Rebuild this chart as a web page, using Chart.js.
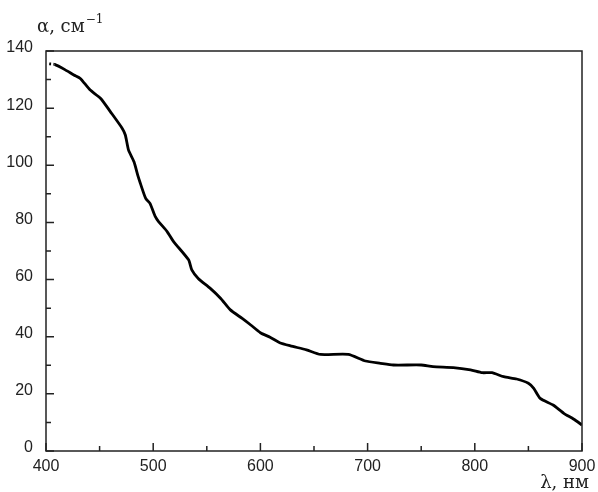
<!DOCTYPE html>
<html>
<head>
<meta charset="utf-8">
<script src="https://cdn.jsdelivr.net/npm/chart.js@4/dist/chart.umd.min.js"></script>
<style>
  html, body { margin: 0; padding: 0; background: #fff; }
</style>
</head>
<body>
<canvas id="chart" width="598" height="492"></canvas>
<script>
// wavelength, nm
const lambda = [403, 408, 418, 426, 432, 441, 451, 460, 471, 474, 477, 482, 486, 488, 493, 497,
  502, 505, 513, 519, 533, 536, 542, 553, 563, 572, 583, 591, 600, 609, 618, 628, 643, 656,
  682, 698, 712, 724, 750, 761, 780, 796, 807, 816, 827, 839, 850, 855, 861, 873, 883, 892, 900];
// absorption coefficient, cm^-1
const alpha = [135.5, 135.3, 133.4, 131.6, 130.4, 126.4, 123.4, 118.8, 113, 110.6, 105.3, 101.3, 96, 93.7,
  88.4, 86.7, 82, 80.3, 76.8, 73.3, 66.9, 63.4, 60.4, 57, 53.4, 49.4, 46.4, 44.1, 41.4, 39.8, 37.9,
  36.8, 35.4, 33.8, 33.8, 31.5, 30.7, 30.1, 30.1, 29.5, 29.2, 28.4, 27.4, 27.4, 26, 25.2, 23.7, 21.9,
  18.4, 16.1, 13.2, 11.2, 9.1];
const xTicks = [400, 500, 600, 700, 800, 900];
const yTicks = [0, 20, 40, 60, 80, 100, 120, 140];

const points = lambda.map((l, i) => ({ x: l, y: alpha[i] }));

// frame + inward ticks, titles
const framePlugin = {
  id: "frame",
  afterDraw(chart) {
    const { ctx, chartArea: a, scales } = chart;
    ctx.save();
    ctx.strokeStyle = "#222";
    ctx.lineWidth = 1.5;
    ctx.strokeRect(a.left, a.top, a.right - a.left, a.bottom - a.top);
    ctx.beginPath();
    for (let v = 400; v <= 900; v += 50) {
      const px = scales.x.getPixelForValue(v);
      const len = v % 100 === 0 ? 8 : 5;
      ctx.moveTo(px, a.bottom);
      ctx.lineTo(px, a.bottom - len);
    }
    for (let v = 0; v <= 140; v += 10) {
      const py = scales.y.getPixelForValue(v);
      const len = v % 20 === 0 ? 8 : 5;
      ctx.moveTo(a.left, py);
      ctx.lineTo(a.left + len, py);
    }
    ctx.stroke();

    ctx.fillStyle = "#222";
    ctx.textBaseline = "alphabetic";
    ctx.textAlign = "left";
    ctx.font = "18px 'DejaVu Serif'";
    ctx.fillText("α, см", 37, 32);
    const w = ctx.measureText("α, см").width;
    ctx.font = "12px 'DejaVu Serif'";
    ctx.fillText("−1", 37 + w + 1, 23);
    ctx.font = "18px 'DejaVu Serif'";
    ctx.textAlign = "right";
    ctx.fillText("λ, нм", 589, 488);
    ctx.restore();
  }
};

new Chart(document.getElementById("chart"), {
  type: "line",
  data: {
    datasets: [{
      data: points,
      borderColor: "#000",
      borderWidth: 2.8,
      pointRadius: 0,
      tension: 0.2,
      segment: {
        borderDash: (c) => (c.p0DataIndex === 0 ? [2, 2] : undefined)
      }
    }]
  },
  options: {
    responsive: false,
    animation: false,
    devicePixelRatio: 1,
    layout: { padding: { top: 51, right: 16, left: 0, bottom: 0 } },
    plugins: { legend: { display: false }, tooltip: { enabled: false } },
    scales: {
      x: {
        type: "linear",
        min: 400,
        max: 900,
        afterBuildTicks: (s) => { s.ticks = xTicks.map((v) => ({ value: v })); },
        afterFit: (s) => { s.height = 41; s.paddingLeft = 0; s.paddingRight = 0; },
        grid: { display: false, drawTicks: false },
        border: { display: false },
        ticks: { color: "#222", padding: 6, maxRotation: 0, font: { family: "'Liberation Sans'", size: 16 } }
      },
      y: {
        min: 0,
        max: 140,
        afterBuildTicks: (s) => { s.ticks = yTicks.map((v) => ({ value: v })); },
        afterFit: (s) => { s.width = 46; s.paddingTop = 0; s.paddingBottom = 0; },
        grid: { display: false, drawTicks: false },
        border: { display: false },
        ticks: { color: "#222", padding: 13, labelOffset: -3, font: { family: "'Liberation Sans'", size: 16 } }
      }
    }
  },
  plugins: [framePlugin]
});
</script>
</body>
</html>
